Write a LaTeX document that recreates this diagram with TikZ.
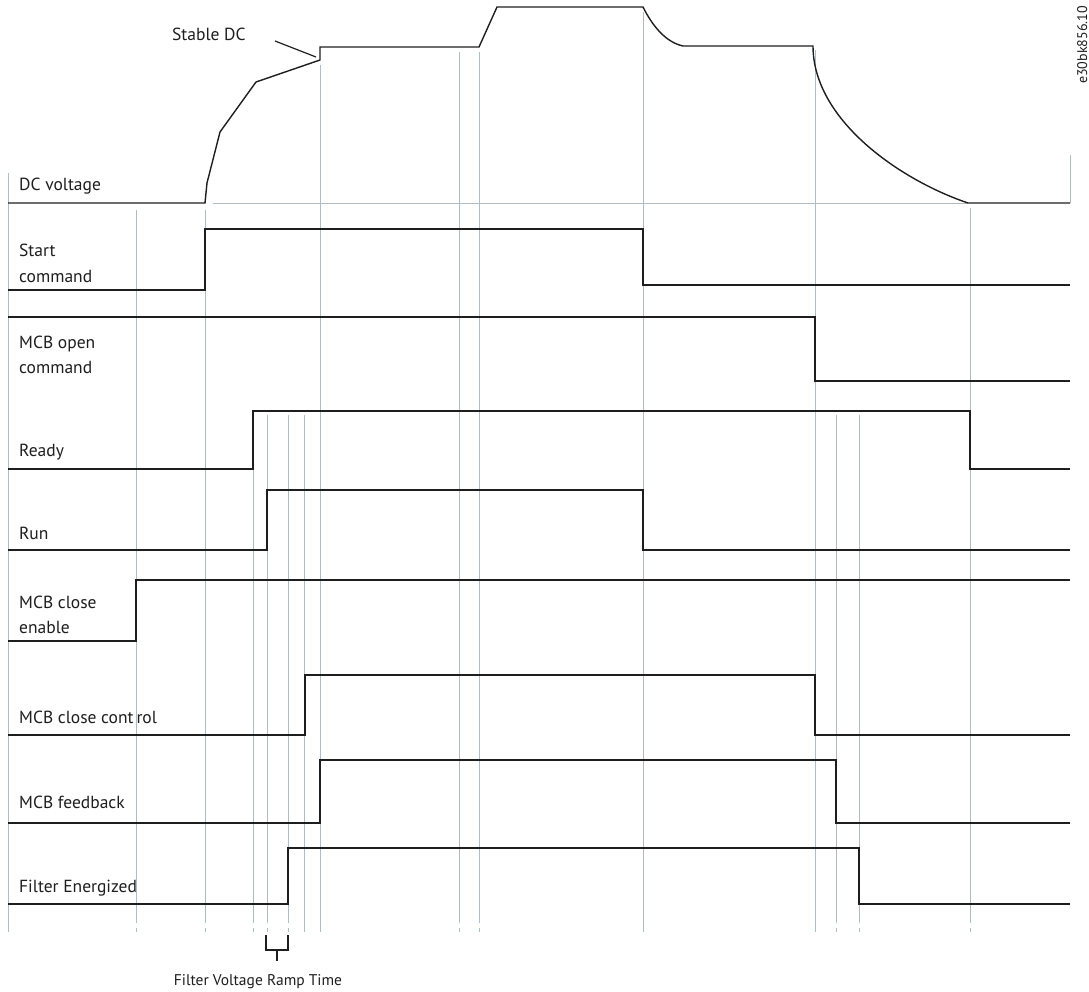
\documentclass[tikz,border=0pt]{standalone}
\usepackage{fontspec}
\setmainfont{PT Sans}
\definecolor{grid}{HTML}{AEBCC8}
\definecolor{ink}{HTML}{1E1E1E}
\begin{document}
\begin{tikzpicture}[x=1pt,y=-1pt,
  guide/.style={draw=grid,line width=1pt},
  wave/.style={draw=ink,line width=1.4pt,line join=miter},
  lbl/.style={anchor=base west,inner sep=0pt,font=\fontsize{17.5}{20}\selectfont,text=ink},
  note/.style={inner sep=0pt,font=\fontsize{15.5}{18}\selectfont,text=ink}]
\useasboundingbox (0,0) rectangle (1089,991);
% guide lines
\draw[guide] (8,173) -- (8,932);
\draw[guide] (1070,155) -- (1070,203);
\draw[guide] (213,203) -- (968,203);
\foreach \x/\t in {136/210,205/210,253/470,267/415,288/415,459/52,479/52,836/415,859/415,970/208}{
  \draw[guide] (\x,\t) -- (\x,923);
  \draw[guide] (\x,928) -- (\x,932);
}
\foreach \x/\t in {304/415,320/65,643/12,815/50}{
  \draw[guide] (\x,\t) -- (\x,932);
}
% waveforms
\draw[wave] (8,203) -- (205,203) -- (207,183) -- (220,132) -- (256,82) -- (320,60) -- (320,47)
  -- (479,47) -- (497,7) -- (643,7) .. controls (652,25) and (665,42) .. (683,46)
  -- (813,46) .. controls (813,120) and (900,180) .. (968,203) -- (1070,203);
\draw[wave] (8,290) -- (205,290) -- (205,229) -- (643,229) -- (643,285) -- (1070,285);
\draw[wave] (8,317) -- (815,317) -- (815,381) -- (1070,381);
\draw[wave] (8,469) -- (253,469) -- (253,411) -- (970,411) -- (970,469) -- (1070,469);
\draw[wave] (8,550) -- (267,550) -- (267,490) -- (643,490) -- (643,550) -- (1070,550);
\draw[wave] (8,641) -- (136,641) -- (136,580) -- (1070,580);
\draw[wave] (8,735) -- (305,735) -- (305,675) -- (815,675) -- (815,735) -- (1070,735);
\draw[wave] (8,823) -- (320,823) -- (320,760) -- (836,760) -- (836,823) -- (1070,823);
\draw[wave] (8,904) -- (288,904) -- (288,848) -- (859,848) -- (859,904) -- (1070,904);
% labels
\node[lbl] (dc) at (19,190) {DC voltage};
\node[lbl] (st1) at (19,256) {Start};
\node[lbl] (st2) at (19,282) {command};
\node[lbl] (mo1) at (19,348) {MCB open};
\node[lbl] (mo2) at (19,373) {command};
\node[lbl] (rdy) at (19,456) {Ready};
\node[lbl] (run) at (19,539) {Run};
\node[lbl] (ce1) at (19,608) {MCB close};
\node[lbl] (ce2) at (19,633) {enable};
\node[lbl] (cc) at (19,723) {MCB close cont\,rol};
\node[lbl] (fb) at (19,808) {MCB feedback};
\node[lbl] (fe) at (19,892) {Filter Energized};
% stable DC
\node[lbl] (sdc) at (172,40) {Stable DC};
\coordinate (sdcA) at (275,41);
\coordinate (sdcB) at (316,57);
\draw[draw=ink,line width=1.2pt] (sdcA) -- (sdcB);
% ramp time bracket
\coordinate (brL) at (266,935);
\coordinate (brR) at (288,935);
\coordinate (brS) at (277,961);
\draw[draw=ink,line width=1.2pt] (brL) -- (266,950) -- (288,950) -- (brR);
\draw[draw=ink,line width=1.2pt] (277,950) -- (brS);
\node[note,anchor=base] (frt) at (258,985) {Filter Voltage Ramp Time};
% id
\node[note,rotate=90,anchor=base,font=\fontsize{14}{16}\selectfont] (id) at (1087,45) {e30bk856.10};
\end{tikzpicture}
\end{document}
